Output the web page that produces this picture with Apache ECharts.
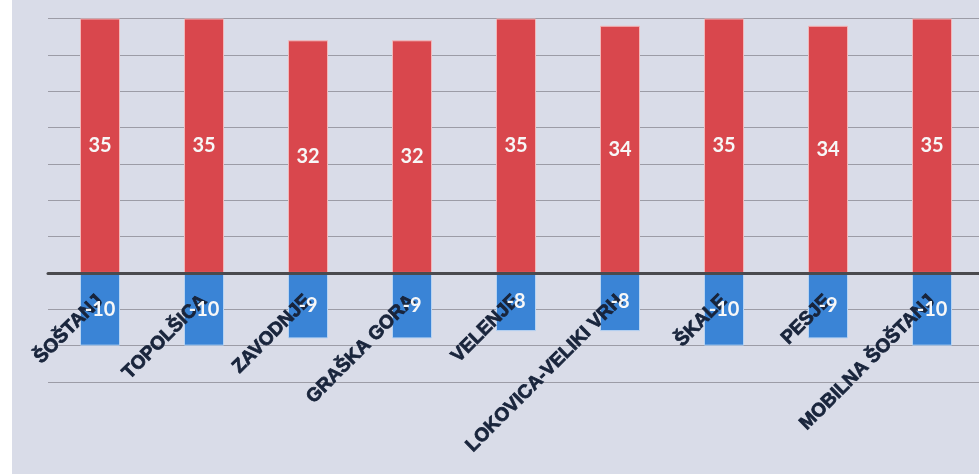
<!DOCTYPE html>
<html>
<head>
<meta charset="utf-8">
<script src="https://cdn.jsdelivr.net/npm/echarts@6/dist/echarts.min.js"></script>
<style>
html,body{margin:0;padding:0;background:#ffffff;}
#c{width:979px;height:474px;}
</style>
</head>
<body>
<div id="c"></div>
<script>
var categories = ['ŠOŠTANJ','TOPOLŠICA','ZAVODNJE','GRAŠKA GORA','VELENJE','LOKOVICA-VELIKI VRH','ŠKALE','PESJE','MOBILNA ŠOŠTANJ'];
var redValues = [35, 35, 32, 32, 35, 34, 35, 34, 35];
var blueValues = [-10, -10, -9, -9, -8, -8, -10, -9, -10];
var yTicks = { min: -15, max: 35, interval: 5 };

var chart = echarts.init(document.getElementById('c'), null, {renderer: 'canvas'});
var dataLabel = {
  show: true,
  position: 'inside',
  color: '#f7f7f7',
  fontSize: 20,
  fontWeight: 'bold',
  fontFamily: 'Lato, "Open Sans", sans-serif'
};
chart.setOption({
  backgroundColor: '#d9dce8',
  animation: false,
  graphic: [{
    type: 'rect', left: 0, top: 0, shape: {width: 12, height: 474},
    style: {fill: '#ffffff'}, z: 100
  }],
  grid: { left: 48, right: -5, top: 18.5, bottom: 92, containLabel: false, outerBoundsMode: 'none' },
  xAxis: {
    type: 'category',
    data: categories,
    z: 3,
    axisLine: { onZero: true, lineStyle: { color: '#4a4a4e', width: 3 } },
    axisTick: { show: false },
    axisLabel: {
      interval: 0,
      rotate: 45,
      margin: -84,
      color: '#18243b',
      fontWeight: 'bold',
      fontSize: 19,
      textBorderColor: '#18243b',
      textBorderWidth: 0.8,
      fontFamily: '"Liberation Sans", Arial, sans-serif'
    },
    splitLine: { show: false }
  },
  yAxis: {
    type: 'value',
    min: yTicks.min,
    max: yTicks.max,
    interval: yTicks.interval,
    axisLine: { show: false },
    axisTick: { show: false },
    axisLabel: { show: false },
    splitLine: { lineStyle: { color: '#9c9ca6', width: 1 } }
  },
  series: [
    {
      type: 'bar', data: redValues, barWidth: 40, barGap: '-100%', z: 2,
      itemStyle: { color: '#d9474d', borderColor: '#f2b7b9', borderWidth: 1 },
      label: dataLabel
    },
    {
      type: 'bar', data: blueValues, barWidth: 40, barGap: '-100%', z: 2,
      itemStyle: { color: '#3a84d6', borderColor: '#b7d3f2', borderWidth: 1 },
      label: { show: false }
    },
    {
      type: 'bar', data: blueValues, barWidth: 40, barGap: '-100%', z: 4, silent: true,
      itemStyle: { color: 'rgba(0,0,0,0)' },
      label: dataLabel
    }
  ]
});
</script>
</body>
</html>
